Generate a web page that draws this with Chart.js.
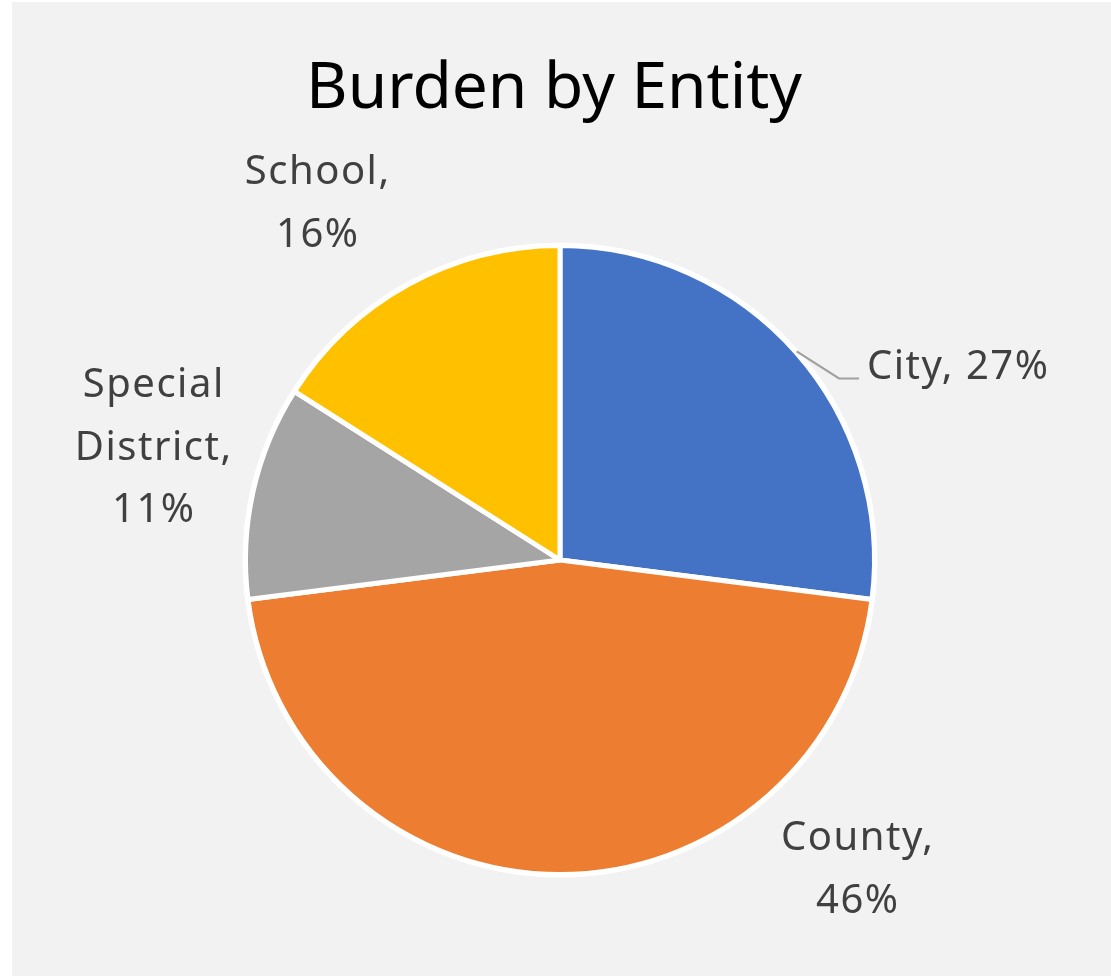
<!DOCTYPE html>
<html>
<head>
<meta charset="utf-8">
<script src="https://cdn.jsdelivr.net/npm/chart.js@4/dist/chart.umd.min.js"></script>
<style>
  html, body { margin: 0; padding: 0; background: #ffffff; }
  #wrap { position: absolute; left: 0; top: 0; width: 1111px; height: 976px; }
</style>
</head>
<body>
<div id="wrap"><canvas id="chart" width="1111" height="976"></canvas></div>
<script>
// Share of burden by entity (percent)
const categories = ['City', 'County', 'Special District', 'School'];
const shares = [27, 46, 11, 16];
const sliceColors = ['#4472C4', '#ED7D31', '#A5A5A5', '#FFC000'];
const chartTitle = 'Burden by Entity';

// Label layout: how each category's label wraps and where its text block sits
const labelLines = [
  (n, v) => [`${n}, ${v}%`],
  (n, v) => [`${n},`, `${v}%`],
  (n, v) => ['Special', 'District,', `${v}%`],
  (n, v) => [`${n},`, `${v}%`]
];
const labelAnchors = [
  { x: 867, y: 379, align: 'left' },
  { x: 857, y: 850, align: 'center' },
  { x: 153, y: 397, align: 'center' },
  { x: 317, y: 184, align: 'center' }
];
const labelFont = '40px "Noto Sans", "Open Sans", sans-serif';
const labelLineStep = 62.5;

const frame = {
  id: 'frame',
  beforeDraw(chart) {
    const ctx = chart.ctx;
    ctx.save();
    ctx.fillStyle = '#ffffff';
    ctx.fillRect(0, 0, chart.width, chart.height);
    ctx.fillStyle = '#F2F2F2';
    ctx.fillRect(12, 2, chart.width - 12, chart.height - 2);
    ctx.restore();
  },
  beforeDatasetsDraw(chart) {
    // white rim around the pie
    const arc = chart.getDatasetMeta(0).data[0];
    const ctx = chart.ctx;
    ctx.save();
    ctx.fillStyle = '#FFFFFF';
    ctx.beginPath();
    ctx.arc(arc.x, arc.y, arc.outerRadius + 3, 0, Math.PI * 2);
    ctx.fill();
    ctx.restore();
  },
  afterDraw(chart) {
    const ctx = chart.ctx;
    ctx.save();
    // title
    ctx.fillStyle = '#000000';
    ctx.font = '64px "Noto Sans", "Open Sans", sans-serif';
    ctx.textAlign = 'center';
    ctx.textBaseline = 'alphabetic';
    ctx.fillText(chartTitle, 554, 108);

    // leader line for the first slice
    const arc = chart.getDatasetMeta(0).data[0];
    const mid = (arc.startAngle + arc.endAngle) / 2;
    const r = arc.outerRadius;
    const sx = arc.x + Math.cos(mid) * (r + 1);
    const sy = arc.y + Math.sin(mid) * (r + 1);
    ctx.strokeStyle = '#A0A0A0';
    ctx.lineWidth = 2.2;
    ctx.beginPath();
    ctx.moveTo(sx, sy);
    ctx.lineTo(839, 378.5);
    ctx.lineTo(859, 378.5);
    ctx.stroke();

    // data labels
    ctx.fillStyle = '#404040';
    ctx.font = labelFont;
    ctx.letterSpacing = '1.5px';
    categories.forEach((name, i) => {
      const lines = labelLines[i](name, shares[i]);
      const a = labelAnchors[i];
      ctx.textAlign = a.align;
      const dx = a.align === 'center' ? 0.75 : 0;
      lines.forEach((t, k) => ctx.fillText(t, a.x + dx, a.y + k * labelLineStep));
    });
    ctx.restore();
  }
};

new Chart(document.getElementById('chart'), {
  type: 'pie',
  data: {
    labels: categories,
    datasets: [{
      data: shares,
      backgroundColor: sliceColors,
      borderColor: '#FFFFFF',
      borderWidth: 5,
      hoverOffset: 0
    }]
  },
  options: {
    responsive: false,
    animation: false,
    rotation: 0,
    layout: { padding: { left: 243, top: 243, right: 234, bottom: 99 } },
    plugins: {
      legend: { display: false },
      title: { display: false },
      tooltip: { enabled: false }
    }
  },
  plugins: [frame]
});
</script>
</body>
</html>
